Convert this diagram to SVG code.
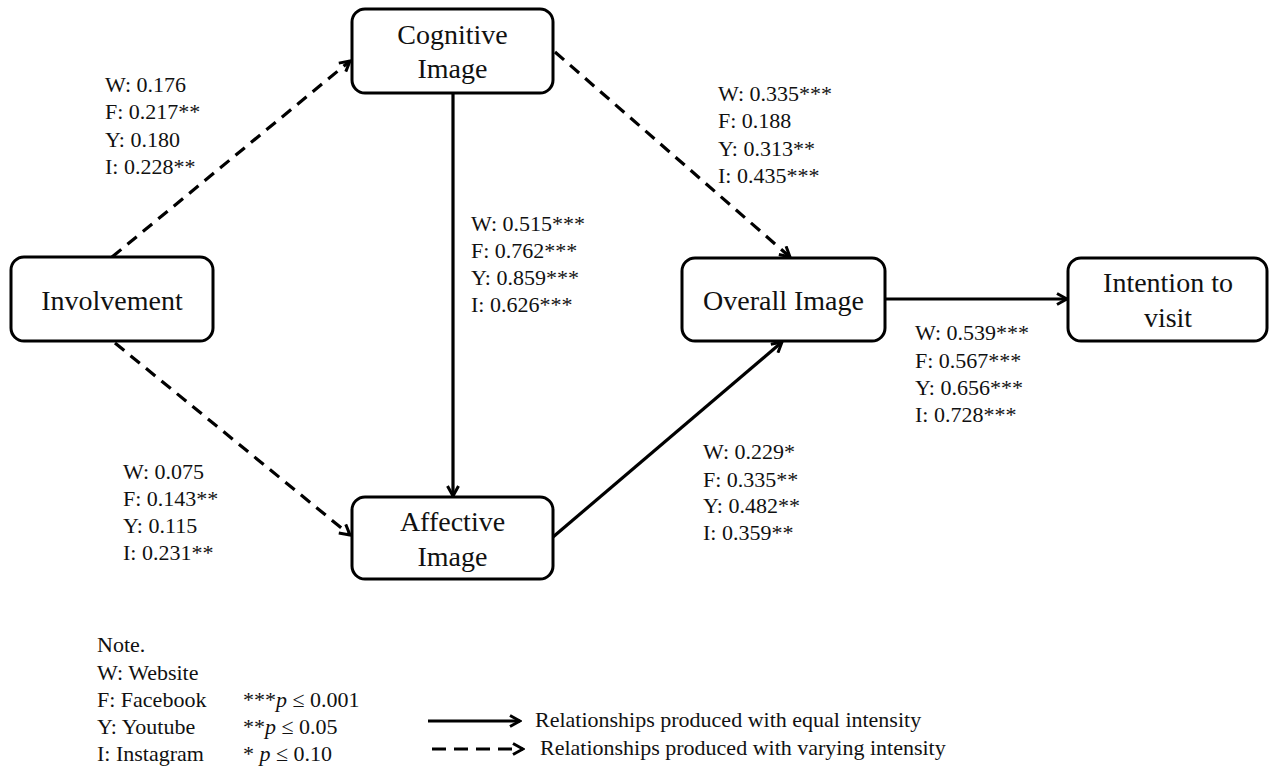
<svg xmlns="http://www.w3.org/2000/svg" width="1271" height="769" viewBox="0 0 1271 769">
<style>
text{font-family:"Liberation Serif","Times New Roman",serif;fill:#111}
.node rect{fill:#fff;stroke:#000;stroke-width:3}
.nt{font-size:28px;text-anchor:middle}
.lbl{font-size:22px}
.conn{stroke:#000;stroke-width:3.2;fill:none}
.dash{stroke-dasharray:12 8}
</style>
<defs>
<marker id="ah" viewBox="0 0 14 14" refX="12" refY="7" markerWidth="14" markerHeight="14" markerUnits="userSpaceOnUse" orient="auto">
<path d="M2,1.5 L12,7 L2,12.5" fill="none" stroke="#000" stroke-width="3" stroke-dasharray="none" stroke-linejoin="miter"/>
</marker>
</defs>
<rect width="1271" height="769" fill="#fff"/>
<g id="connectors">
<line class="conn dash" x1="112" y1="257" x2="350" y2="61" marker-end="url(#ah)"/>
<line class="conn dash" x1="115" y1="343" x2="350" y2="535" marker-end="url(#ah)"/>
<line class="conn dash" x1="555" y1="52" x2="790" y2="257" marker-end="url(#ah)"/>
<line class="conn" x1="453" y1="93" x2="453" y2="496" marker-end="url(#ah)"/>
<line class="conn" x1="553" y1="537" x2="782" y2="342" marker-end="url(#ah)"/>
<line class="conn" x1="885" y1="299" x2="1067" y2="299" marker-end="url(#ah)"/>
</g>
<g id="cognitive" class="node">
<rect x="352" y="9" width="201" height="84" rx="13"/>
<text class="nt" x="452.5" y="44">Cognitive</text>
<text class="nt" x="452.5" y="78">Image</text>
</g>
<g id="involvement" class="node">
<rect x="11" y="257" width="202" height="84" rx="13"/>
<text class="nt" x="112" y="310">Involvement</text>
</g>
<g id="affective" class="node">
<rect x="352" y="497" width="201" height="82" rx="13"/>
<text class="nt" x="452.5" y="531">Affective</text>
<text class="nt" x="452.5" y="566">Image</text>
</g>
<g id="overall" class="node">
<rect x="682" y="258" width="203" height="83" rx="13"/>
<text class="nt" x="783.5" y="310">Overall Image</text>
</g>
<g id="intention" class="node">
<rect x="1068" y="258" width="199" height="83" rx="13"/>
<text class="nt" x="1168" y="292">Intention to</text>
<text class="nt" x="1168" y="327">visit</text>
</g>
<g id="labels" class="lbl">
<text x="105" y="92">W: 0.176</text>
<text x="105" y="119">F: 0.217**</text>
<text x="105" y="147">Y: 0.180</text>
<text x="105" y="174">I: 0.228**</text>
<text x="123" y="479">W: 0.075</text>
<text x="123" y="506">F: 0.143**</text>
<text x="123" y="533">Y: 0.115</text>
<text x="123" y="560">I: 0.231**</text>
<text x="471" y="231">W: 0.515***</text>
<text x="471" y="258">F: 0.762***</text>
<text x="471" y="285">Y: 0.859***</text>
<text x="471" y="312">I: 0.626***</text>
<text x="718" y="101">W: 0.335***</text>
<text x="718" y="128">F: 0.188</text>
<text x="718" y="156">Y: 0.313**</text>
<text x="718" y="183">I: 0.435***</text>
<text x="915" y="340">W: 0.539***</text>
<text x="915" y="368">F: 0.567***</text>
<text x="915" y="395">Y: 0.656***</text>
<text x="915" y="422">I: 0.728***</text>
<text x="703" y="459">W: 0.229*</text>
<text x="703" y="487">F: 0.335**</text>
<text x="703" y="513">Y: 0.482**</text>
<text x="703" y="540">I: 0.359**</text>
</g>
<g id="legend" class="lbl">
<text x="97" y="652">Note.</text>
<text x="97" y="680">W: Website</text>
<text x="97" y="707">F: Facebook</text>
<text x="97" y="734">Y: Youtube</text>
<text x="97" y="761">I: Instagram</text>
<text x="243" y="707">***<tspan font-style="italic">p</tspan> ≤ 0.001</text>
<text x="243" y="734">**<tspan font-style="italic">p</tspan> ≤ 0.05</text>
<text x="243" y="761">* <tspan font-style="italic">p</tspan> ≤ 0.10</text>
<line class="conn" x1="428" y1="721" x2="520" y2="721" marker-end="url(#ah)"/>
<text x="535" y="727">Relationships produced with equal intensity</text>
<line class="conn" x1="432" y1="749" x2="523" y2="749" stroke-dasharray="14 8" marker-end="url(#ah)"/>
<text x="540" y="755">Relationships produced with varying intensity</text>
</g>
</svg>
